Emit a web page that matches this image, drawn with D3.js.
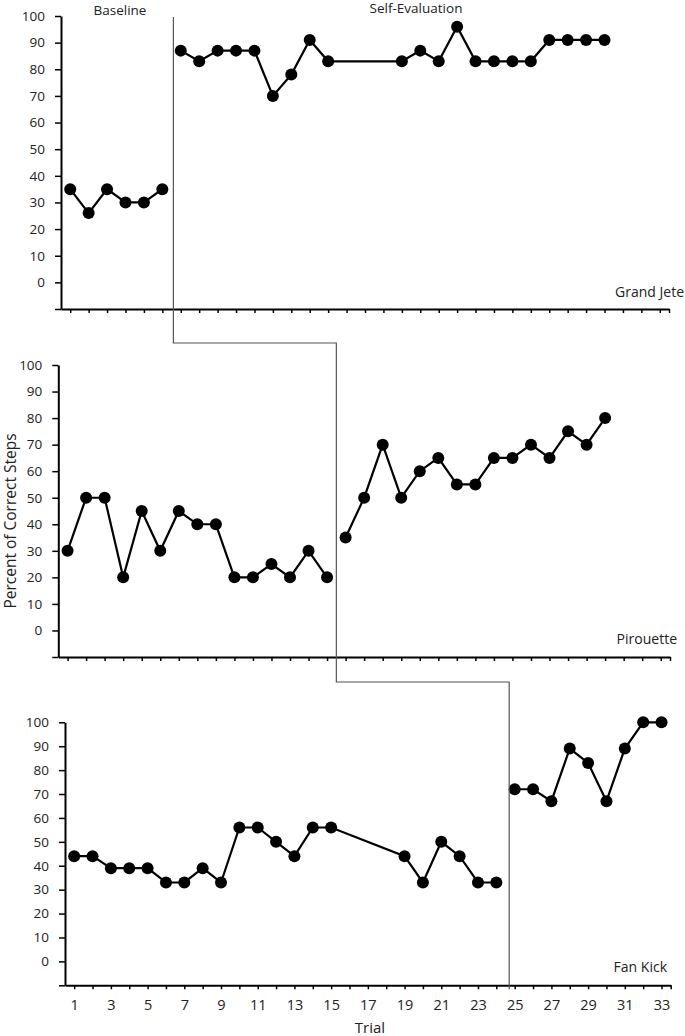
<!DOCTYPE html>
<html><head><meta charset="utf-8">
<script src="https://cdn.jsdelivr.net/npm/d3@7"></script>
<style>body{margin:0;background:#fff}svg{display:block}text{font-family:"Open Sans",sans-serif;fill:#222}</style>
</head><body>
<script>
const trials = d3.range(1, 34);
const xTickLabels = d3.range(1, 34, 2);
const yTickValues = [0,10,20,30,40,50,60,70,80,90,100];

const grandJeteTrials = [1,2,3,4,5,6,7,8,9,10,11,12,13,14,15,19,20,21,22,23,24,25,26,27,28,29,30];
const grandJete = [35,26,35,30,30,35,87,83,87,87,87,70,78,91,83,83,87,83,96,83,83,83,83,91,91,91,91];

const pirouetteTrials = d3.range(1, 31);
const pirouette = [30,50,50,20,45,30,45,40,40,20,20,25,20,30,20,35,50,70,50,60,65,55,55,65,65,70,65,75,70,80];

const fanKickTrials = [1,2,3,4,5,6,7,8,9,10,11,12,13,14,15,19,20,21,22,23,24,25,26,27,28,29,30,31,32,33];
const fanKick = [44,44,39,39,39,33,33,39,33,56,56,50,44,56,56,44,33,50,44,33,33,72,72,67,89,83,67,89,100,100];

const panelNames = ["Grand Jete", "Pirouette", "Fan Kick"];
const phaseChanges = [6.6, 15.5, 24.7];
const phaseLabels = ["Baseline", "Self-Evaluation"];

const W = 685, H = 1036;
const svg = d3.select("body").append("svg").attr("width", W).attr("height", H);

const layout = [
  {left: 61, right: 669, top: 16, bottom: 309, labelX: 684, labelY: 297},
  {left: 58.3, right: 670, top: 365, bottom: 657, labelX: 677, labelY: 644},
  {left: 65, right: 670.7, top: 722.3, bottom: 985.3, labelX: 667, labelY: 972}
];
const series = [
  {t: grandJeteTrials, v: grandJete},
  {t: pirouetteTrials, v: pirouette},
  {t: fanKickTrials, v: fanKick}
];

const scales = layout.map(L => ({
  x: d3.scaleLinear().domain([0.5, 33.5]).range([L.left, L.right]),
  y: d3.scaleLinear().domain([-10, 100]).range([L.bottom, L.top])
}));

layout.forEach((L, i) => {
  const {x, y} = scales[i];
  const g = svg.append("g");
  const ya = g.append("g").attr("transform", `translate(${L.left},0)`)
    .call(d3.axisLeft(y).tickValues([-10, ...yTickValues]).tickSize(6).tickSizeOuter(0).tickPadding(10)
      .tickFormat(d => d < 0 ? "" : d));
  ya.select(".domain").attr("stroke", "#000").attr("stroke-width", 2);
  ya.selectAll(".tick line").attr("stroke", "#000").attr("stroke-width", 1.5);
  ya.selectAll(".tick text").style("font-size", "13.5px").style("font-family", "Open Sans").attr("fill", "#222");
  const xa = g.append("g").attr("transform", `translate(0,${L.bottom})`)
    .call(d3.axisBottom(x).tickValues([...trials, 33.5]).tickSize(4).tickSizeOuter(0).tickPadding(10)
      .tickFormat(d => (i === 2 && xTickLabels.includes(d)) ? d : ""));
  xa.select(".domain").attr("stroke", "#000").attr("stroke-width", 2);
  xa.selectAll(".tick line").attr("stroke", "#000").attr("stroke-width", 1.5);
  xa.selectAll(".tick text").style("font-size", "14.5px").style("font-family", "Open Sans").attr("fill", "#222");

  const s = series[i];
  const pts = s.t.map((t, k) => ({t, v: s.v[k]}));
  const pc = phaseChanges[i];
  const segs = [pts.filter(p => p.t < pc), pts.filter(p => p.t > pc)];
  const line = d3.line().x(d => x(d.t)).y(d => y(d.v));
  segs.forEach(sg => g.append("path").attr("d", line(sg)).attr("fill", "none")
    .attr("stroke", "#000").attr("stroke-width", 2.2));
  g.selectAll("circle").data(pts).join("circle")
    .attr("cx", d => x(d.t)).attr("cy", d => y(d.v)).attr("r", 6).attr("fill", "#000");

  g.append("text").attr("x", L.labelX).attr("y", L.labelY).attr("text-anchor", "end")
    .style("font-size", "14px").text(panelNames[i]);
});

const pcx = phaseChanges.map((p, i) => scales[i].x(p));
const stepY1 = layout[0].bottom + 34, stepY2 = layout[1].bottom + 25;
const pathPts = [
  [pcx[0], layout[0].top + 1], [pcx[0], stepY1], [pcx[1], stepY1],
  [pcx[1], stepY2], [pcx[2], stepY2], [pcx[2], layout[2].bottom + 4]
];
svg.append("path").attr("d", d3.line()(pathPts)).attr("fill", "none")
  .attr("stroke", "#555").attr("stroke-width", 1.2);

svg.append("text").attr("x", 120).attr("y", 15).attr("text-anchor", "middle")
  .style("font-size", "13.5px").text(phaseLabels[0]);
svg.append("text").attr("x", 416).attr("y", 12.5).attr("text-anchor", "middle")
  .style("font-size", "13.5px").text(phaseLabels[1]);

svg.append("text").attr("transform", "translate(16,521) rotate(-90)").attr("text-anchor", "middle")
  .style("font-size", "15.5px").text("Percent of Correct Steps");
svg.append("text").attr("x", 370).attr("y", 1033).attr("text-anchor", "middle")
  .style("font-size", "15px").text("Trial");
</script>
</body></html>
